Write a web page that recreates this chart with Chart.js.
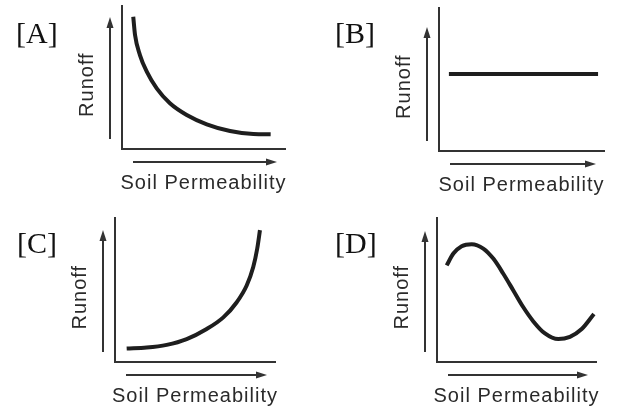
<!DOCTYPE html>
<html>
<head>
<meta charset="utf-8">
<script src="https://cdn.jsdelivr.net/npm/chart.js@4.4.0/dist/chart.umd.min.js"></script>
<style>
  body { margin: 0; background: #fff; }
  #wrap { position: relative; width: 618px; height: 409px; }
  canvas { position: absolute; }
</style>
</head>
<body>
<div id="wrap">
  <canvas id="chartA" width="309" height="205" style="left:0;top:0"></canvas>
  <canvas id="chartB" width="309" height="205" style="left:309px;top:0"></canvas>
  <canvas id="chartC" width="309" height="204" style="left:0;top:205px"></canvas>
  <canvas id="chartD" width="309" height="204" style="left:309px;top:205px"></canvas>
</div>
<script>
// text in the figure
var panelLabels = ["[A]", "[B]", "[C]", "[D]"];
var yLabel = "Runoff";
var xLabel = "Soil Permeability";

// curves, both axes run 0..10
var xA = [0.69, 0.80, 1.10, 1.52, 2.13, 2.94, 3.97, 5.20, 6.63, 8.06, 9.12];
var yA = [9.25, 7.97, 6.57, 5.41, 4.24, 3.20, 2.38, 1.73, 1.26, 1.05, 1.03];

var xB = [0.6, 9.64];
var yB = [5.38, 5.38];

var xC = [0.73, 1.98, 3.23, 4.48, 5.73, 6.77, 7.61, 8.23, 8.64, 8.89, 9.06];
var yC = [0.93, 1.00, 1.19, 1.59, 2.29, 3.10, 4.15, 5.31, 6.59, 7.88, 9.16];

var xD = [0.61, 1.03, 1.55, 2.18, 2.91, 3.54, 4.17, 4.80, 5.43, 6.06, 6.79, 7.63, 8.36, 9.10, 9.87];
var yD = [6.71, 7.53, 8.04, 8.18, 7.88, 7.18, 6.13, 4.97, 3.80, 2.82, 1.98, 1.59, 1.75, 2.29, 3.34];

var ink = "#333";

// where each small chart sits inside its canvas
var panels = [
  { id: "chartA", xs: xA, ys: yA, pad: { left: 122, top: 6, right: 24, bottom: 56 }, lx: 16, ly: 43, upTop: 11 },
  { id: "chartB", xs: xB, ys: yB, pad: { left: 130, top: 8, right: 14, bottom: 54 }, lx: 26, ly: 43, upTop: 19 },
  { id: "chartC", xs: xC, ys: yC, pad: { left: 115, top: 13, right: 34, bottom: 47 }, lx: 17, ly: 48, upTop: 12 },
  { id: "chartD", xs: xD, ys: yD, pad: { left: 128, top: 13, right: 22, bottom: 47 }, lx: 26, ly: 48, upTop: 13 },
];

function arrow(ctx, x1, y1, x2, y2) {
  var ang = Math.atan2(y2 - y1, x2 - x1);
  var len = 11, half = 3.5;
  var bx = x2 - Math.cos(ang) * len, by = y2 - Math.sin(ang) * len;
  ctx.beginPath();
  ctx.moveTo(x1, y1);
  ctx.lineTo(bx, by);
  ctx.stroke();
  ctx.beginPath();
  ctx.moveTo(x2, y2);
  ctx.lineTo(bx - Math.sin(ang) * half, by + Math.cos(ang) * half);
  ctx.lineTo(bx + Math.sin(ang) * half, by - Math.cos(ang) * half);
  ctx.closePath();
  ctx.fill();
}

// arrows, axis words and the panel letter
var decor = {
  id: "decor",
  afterDraw: function (chart, args, opts) {
    var ctx = chart.ctx;
    var a = chart.chartArea;
    ctx.save();
    ctx.strokeStyle = ink;
    ctx.fillStyle = ink;
    ctx.lineWidth = 2;
    var ax = a.left - 12;
    arrow(ctx, ax, a.bottom - 10, ax, a.top + opts.upTop);
    var ay = a.bottom + 13;
    arrow(ctx, a.left + 11, ay, a.right - 8, ay);

    ctx.fillStyle = "#2a2a2a";
    ctx.font = "20px 'Liberation Sans', Arial, sans-serif";
    ctx.letterSpacing = "1px";
    ctx.textAlign = "center";
    ctx.textBaseline = "alphabetic";
    ctx.fillText(xLabel, (a.left + a.right) / 2, a.bottom + 40);
    ctx.save();
    ctx.translate(a.left - 29, a.top + 0.55 * (a.bottom - a.top));
    ctx.rotate(-Math.PI / 2);
    ctx.fillText(yLabel, 0, 0);
    ctx.restore();

    ctx.letterSpacing = "0px";
    ctx.fillStyle = "#111";
    ctx.font = "30px 'Liberation Serif', 'Times New Roman', serif";
    ctx.textAlign = "left";
    ctx.fillText(opts.letter, opts.lx, opts.ly);
    ctx.restore();
  }
};

function axis() {
  return {
    type: "linear",
    min: 0,
    max: 10,
    ticks: { display: false },
    grid: { display: false, drawTicks: false },
    border: { display: true, color: ink, width: 2 },
  };
}

panels.forEach(function (p, i) {
  var pts = p.xs.map(function (x, k) { return { x: x, y: p.ys[k] }; });
  new Chart(document.getElementById(p.id).getContext("2d"), {
    type: "line",
    data: {
      datasets: [{
        data: pts,
        borderColor: "#1e1e1e",
        borderWidth: 4,
        pointRadius: 0,
        fill: false,
        cubicInterpolationMode: "monotone",
      }],
    },
    options: {
      responsive: false,
      animation: false,
      layout: { padding: p.pad },
      plugins: {
        legend: { display: false },
        tooltip: { enabled: false },
        decor: { letter: panelLabels[i], lx: p.lx, ly: p.ly, upTop: p.upTop },
      },
      scales: { x: axis(), y: axis() },
    },
    plugins: [decor],
  });
});
</script>
</body>
</html>
